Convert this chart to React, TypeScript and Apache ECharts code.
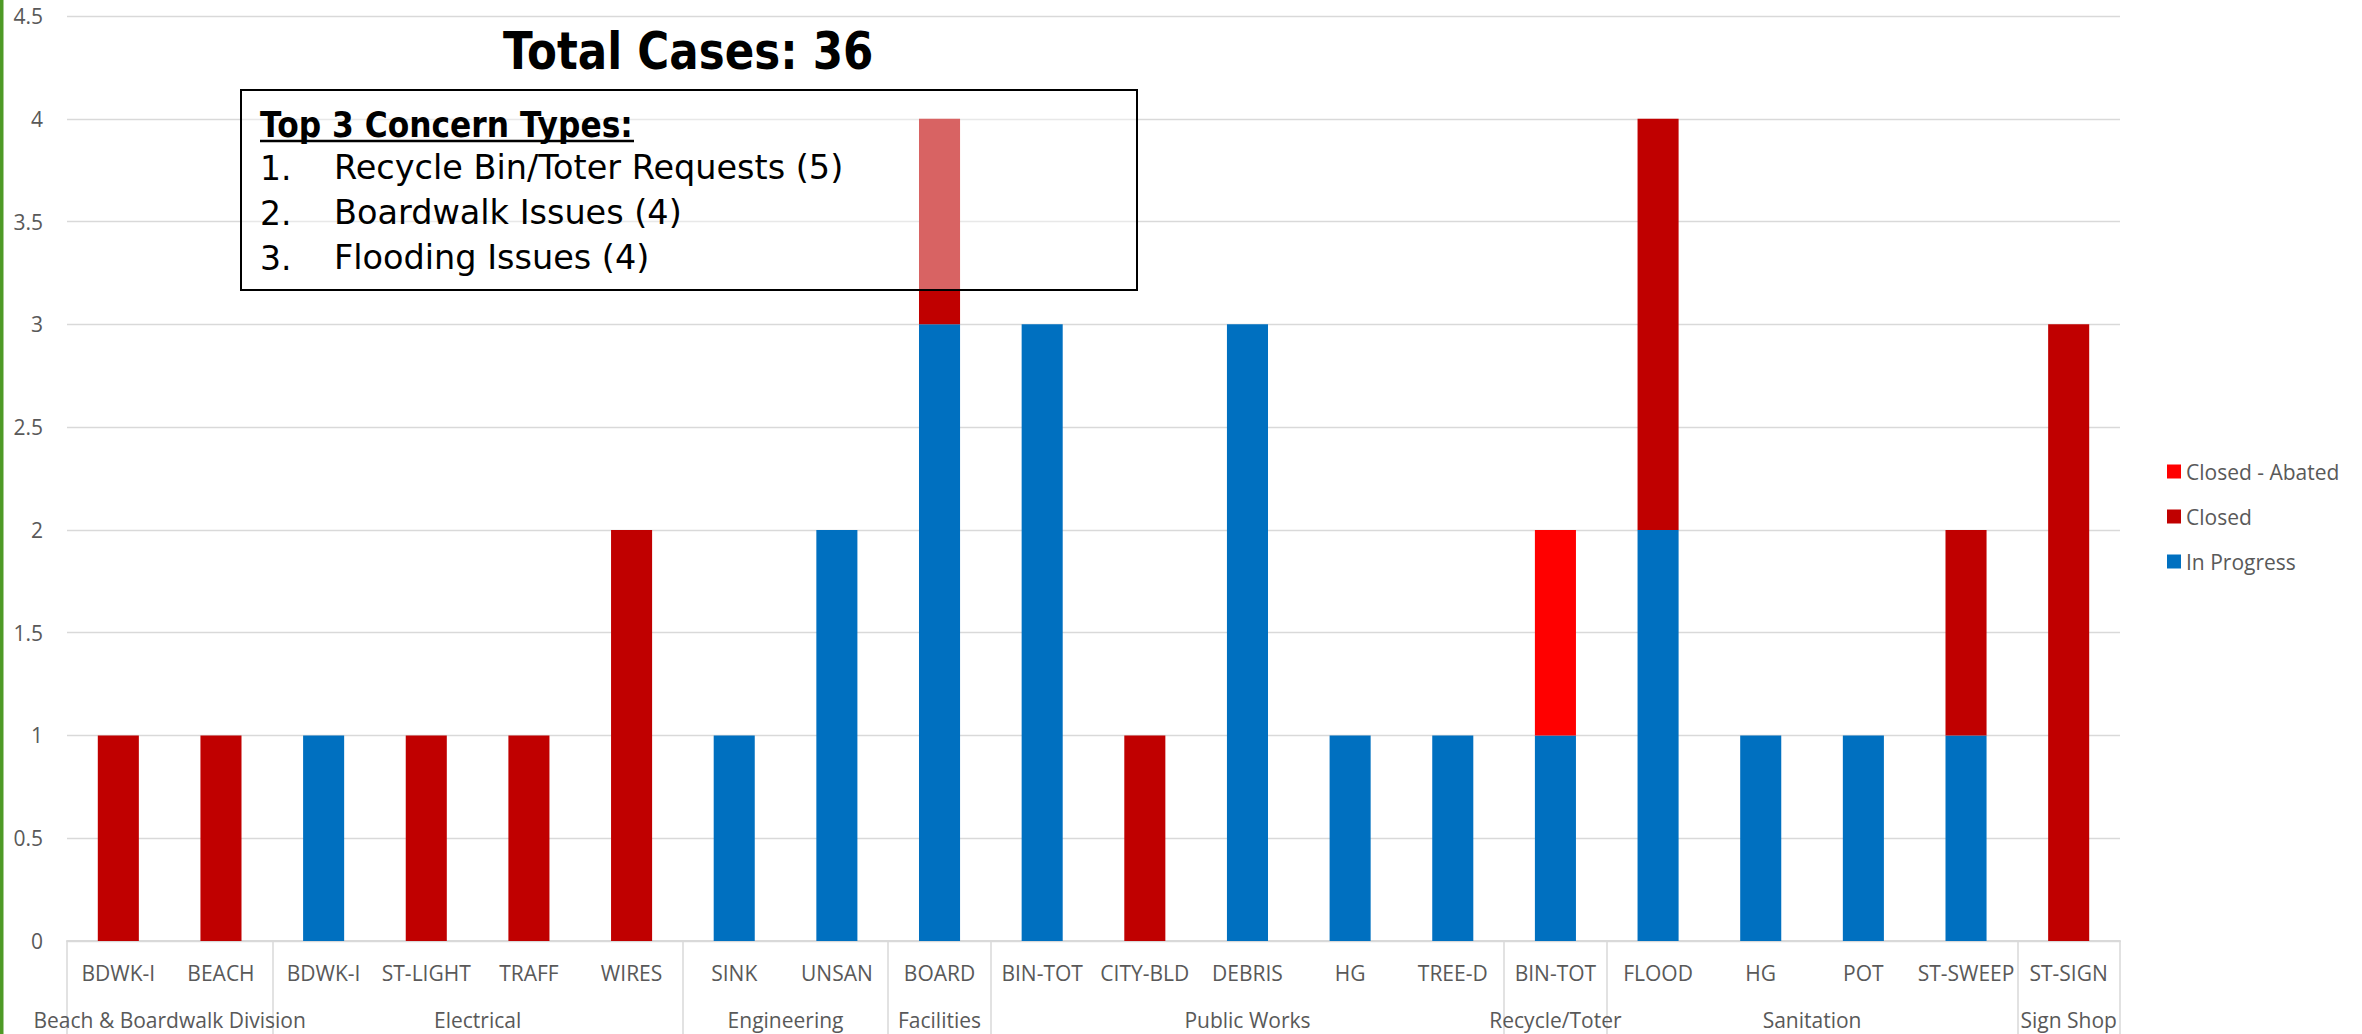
import React, { useEffect, useRef } from "react";
import * as echarts from "echarts";

const categories = ["BDWK-I", "BEACH", "BDWK-I", "ST-LIGHT", "TRAFF", "WIRES", "SINK", "UNSAN", "BOARD", "BIN-TOT", "CITY-BLD", "DEBRIS", "HG", "TREE-D", "BIN-TOT", "FLOOD", "HG", "POT", "ST-SWEEP", "ST-SIGN"];
const inProgress = [0, 0, 1, 0, 0, 0, 1, 2, 3, 3, 0, 3, 1, 1, 1, 2, 1, 1, 1, 0];
const closed = [1, 1, 0, 1, 1, 2, 0, 0, 1, 0, 1, 0, 0, 0, 0, 2, 0, 0, 1, 3];
const closedAbated = [0, 0, 0, 0, 0, 0, 0, 0, 0, 0, 0, 0, 0, 0, 1, 0, 0, 0, 0, 0];
const groupNames = ["Beach & Boardwalk Division", "Electrical", "Engineering", "Facilities", "Public Works", "Recycle/Toter", "Sanitation", "Sign Shop"];
const groupSizes = [2, 4, 2, 1, 5, 1, 4, 1];
const yMin = 0;
const yMax = 4.5;
const yInterval = 0.5;
const titleText = "Total Cases: 36";
const concernHeader = "Top 3 Concern Types:";
const concernNumbers = ["1.", "2.", "3."];
const concernItems = ["Recycle Bin/Toter Requests (5)", "Boardwalk Issues (4)", "Flooding Issues (4)"];

const AXIS_FONT = '"Open Sans", "Noto Sans", sans-serif';
const BOX_FONT = '"DejaVu Sans", sans-serif';

export default function App() {
  const ref = useRef<HTMLDivElement>(null);

  useEffect(() => {
    if (!ref.current) return;
    const chart = echarts.init(ref.current, null, { renderer: "svg" });

    const boundaries: number[] = [0];
    const centers: number[] = [];
    const centerName: Record<string, string> = {};
    let acc = 0;
    groupSizes.forEach((s, i) => {
      const c = acc + s / 2;
      centers.push(c);
      centerName[String(c)] = groupNames[i];
      acc += s;
      boundaries.push(acc);
    });

    const nz = (arr: number[]) => arr.map((v) => (v === 0 ? null : v));

    const itemY = [168, 213, 258];

    chart.setOption({
      animation: false,
      backgroundColor: "#ffffff",
      grid: { left: 67, right: 242, top: 16, bottom: 93, containLabel: false },
      legend: {
        orient: "vertical",
        left: 2162,
        top: 456,
        itemWidth: 14,
        itemHeight: 14,
        itemGap: 24,
        icon: "rect",
        data: ["Closed - Abated", "Closed", "In Progress"],
        textStyle: { color: "#595959", fontSize: 21, fontFamily: AXIS_FONT },
      },
      xAxis: [
        {
          type: "category",
          data: categories,
          position: "bottom",
          axisLine: { show: true, lineStyle: { color: "#D9D9D9", width: 2 } },
          axisTick: { show: false },
          axisLabel: { interval: 0, color: "#595959", fontSize: 21, fontFamily: AXIS_FONT, margin: 21 },
          splitLine: { show: false },
        },
        {
          type: "value",
          min: 0,
          max: categories.length,
          position: "bottom",
          axisLine: { show: false },
          splitLine: { show: false },
          axisTick: {
            show: true,
            customValues: boundaries,
            length: 93,
            lineStyle: { color: "#D9D9D9", width: 1.5 },
          },
          axisLabel: {
            show: true,
            customValues: centers,
            margin: 68,
            color: "#595959",
            fontSize: 21,
            fontFamily: AXIS_FONT,
            formatter: (v: number) => centerName[String(v)] || "",
          },
        },
      ],
      yAxis: {
        type: "value",
        min: yMin,
        max: yMax,
        interval: yInterval,
        axisLine: { show: false },
        axisTick: { show: false },
        axisLabel: { color: "#595959", fontSize: 21, fontFamily: AXIS_FONT, margin: 24 },
        splitLine: { lineStyle: { color: "#D9D9D9", width: 1.3 } },
      },
      series: [
        {
          name: "In Progress",
          type: "bar",
          stack: "total",
          barCategoryGap: "60%",
          itemStyle: { color: "#0070C0" },
          data: nz(inProgress),
        },
        {
          name: "Closed",
          type: "bar",
          stack: "total",
          barCategoryGap: "60%",
          itemStyle: { color: "#C00000" },
          data: nz(closed),
        },
        {
          name: "Closed - Abated",
          type: "bar",
          stack: "total",
          barCategoryGap: "60%",
          itemStyle: { color: "#FF0000" },
          data: nz(closedAbated),
        },
      ],
      graphic: [
        {
          type: "rect",
          z: 100,
          shape: { x: 0, y: 0, width: 3.5, height: 1034 },
          style: { fill: "#4E9A26" },
        },
        {
          type: "text",
          z: 100,
          x: 503,
          y: 51.7,
          scaleX: 0.855,
          style: {
            text: titleText,
            fontSize: 51,
            fontWeight: "bold",
            fontFamily: BOX_FONT,
            fill: "#000000",
            align: "left",
            verticalAlign: "middle",
          },
        },
        {
          type: "rect",
          z: 100,
          shape: { x: 241, y: 90, width: 896, height: 200 },
          style: { fill: "rgba(255,255,255,0.39)", stroke: "#000000", lineWidth: 2 },
        },
        {
          type: "text",
          z: 101,
          x: 260,
          y: 124.5,
          scaleX: 0.895,
          style: {
            text: concernHeader,
            fontSize: 35,
            fontWeight: "bold",
            fontFamily: BOX_FONT,
            fill: "#000000",
            align: "left",
            verticalAlign: "middle",
          },
        },
        {
          type: "line",
          z: 101,
          shape: { x1: 260, y1: 141, x2: 634, y2: 141 },
          style: { stroke: "#000000", lineWidth: 2.5 },
        },
        ...concernNumbers.map((n, i) => ({
          type: "text",
          z: 101,
          x: 260,
          y: itemY[i],
          style: {
            text: n,
            fontSize: 33,
            fontFamily: BOX_FONT,
            fill: "#000000",
            align: "left",
            verticalAlign: "middle",
          },
        })),
        ...concernItems.map((t, i) => ({
          type: "text",
          z: 101,
          x: 334,
          y: itemY[i],
          scaleX: 1.015,
          style: {
            text: t,
            fontSize: 33,
            fontFamily: BOX_FONT,
            fill: "#000000",
            align: "left",
            verticalAlign: "middle",
          },
        })),
      ],
    });

    return () => chart.dispose();
  }, []);

  return (
    <div
      ref={ref}
      style={{ position: "absolute", left: 0, top: 0, width: 2362, height: 1034, background: "#fff" }}
    />
  );
}
